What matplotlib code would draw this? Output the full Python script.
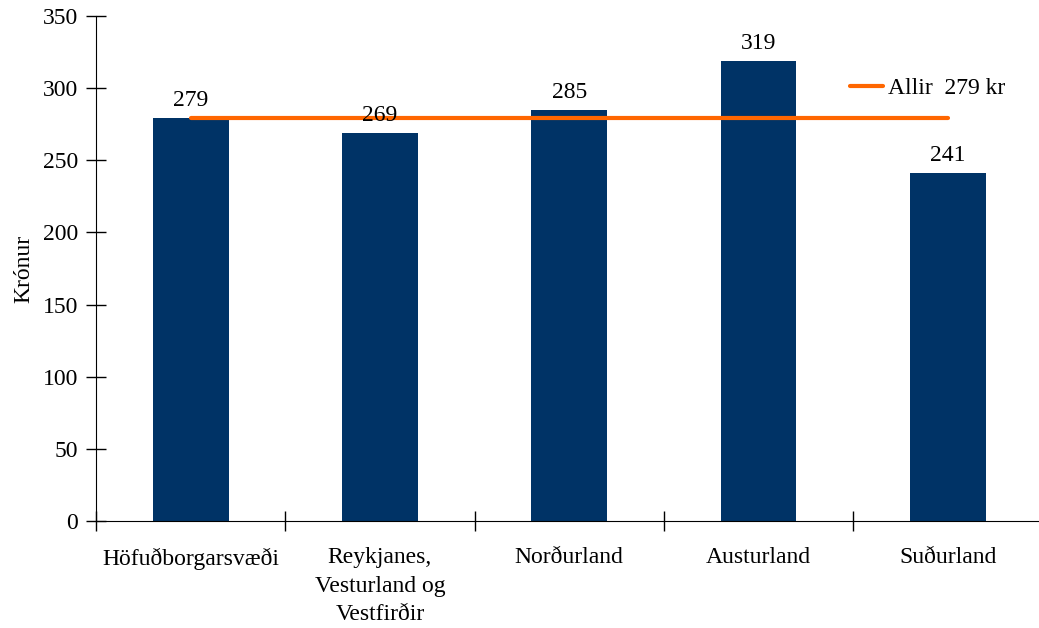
import numpy as np
import matplotlib.pyplot as plt
from matplotlib.lines import Line2D

plt.rcParams['font.family'] = ['Liberation Serif', 'DejaVu Serif']

regions = ['Höfuðborgarsvæði', 'Reykjanes,\nVesturland og\nVestfirðir',
           'Norðurland', 'Austurland', 'Suðurland']
values = [279, 269, 285, 319, 241]
avg_value = 279
avg_label = 'Allir  279 kr'

bar_color = '#003366'
line_color = '#FF6600'

fig = plt.figure(figsize=(10.39, 6.28), dpi=100)
ax = fig.add_axes([96 / 1039, 1 - 521 / 628, 946.5 / 1039, 505 / 628])

x = np.arange(len(regions))
ax.bar(x, values, width=0.40, color=bar_color, zorder=2)

# Meðaltal allra svæða
ax.plot([x[0], x[-1]], [avg_value, avg_value], color=line_color, linewidth=3,
        solid_capstyle='round', zorder=3)

for xi, v in zip(x, values):
    ax.annotate(str(v), (xi, v), xytext=(0, 5), textcoords='offset points',
                ha='center', va='bottom', fontsize=17)

ax.set_xlim(-0.5, len(regions) - 0.5)
ax.set_ylim(0, 350)
ax.set_yticks(np.arange(0, 351, 50))
ax.set_xticks(x)
ax.set_xticklabels(regions, fontsize=17, va='top', linespacing=1.45)
ax.set_xticks(np.arange(-0.5, len(regions), 1), minor=True)
ax.tick_params(axis='x', which='major', length=0, pad=19)
ax.tick_params(axis='x', which='minor', direction='inout', length=14, width=1)
ax.tick_params(axis='y', direction='inout', length=14, width=1, labelsize=17, pad=6)
ax.set_ylabel('Krónur', fontsize=17, labelpad=6)

for s in ['top', 'right']:
    ax.spines[s].set_visible(False)

handle = Line2D([], [], color=line_color, linewidth=3, solid_capstyle='round')
fig.legend([handle], [avg_label], loc='center left', frameon=False,
           bbox_to_anchor=(850 / 1039, 1 - 88 / 628), borderpad=0, borderaxespad=0,
           handlelength=1.4, handletextpad=0.2, fontsize=17)

fig.savefig('out.png', dpi=100)
